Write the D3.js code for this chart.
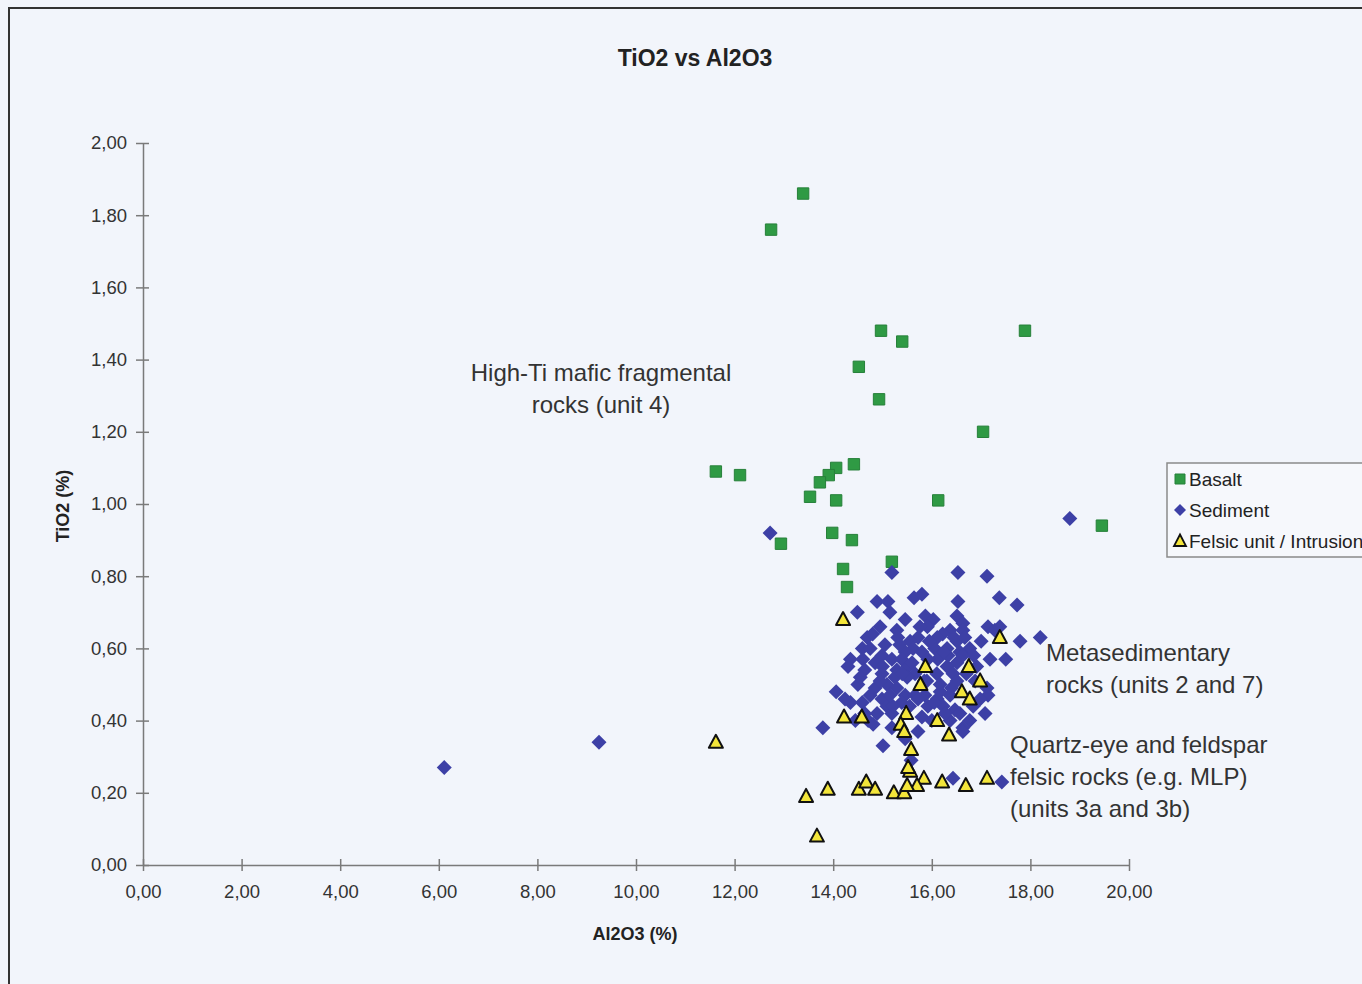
<!DOCTYPE html>
<html>
<head>
<meta charset="utf-8">
<script src="https://cdn.jsdelivr.net/npm/d3@7"></script>
<style>
  html, body { margin: 0; padding: 0; background: #f2f5fb; }
  svg { display: block; }
</style>
</head>
<body>
<svg id="chart" width="1362" height="984"></svg>
<script>
// Al2O3 (x) and TiO2 (y) in wt %, one array pair per rock group
const basaltAl = [13.39, 12.74, 14.97, 17.89, 15.40, 14.52, 14.93, 17.04, 11.62, 12.11, 14.42, 14.06,
  13.91, 13.73, 13.53, 14.06, 16.13, 19.45, 12.94, 13.98, 14.38, 15.19, 14.20, 14.28];
const basaltTi = [1.86, 1.76, 1.48, 1.48, 1.45, 1.38, 1.29, 1.20, 1.09, 1.08, 1.11, 1.10,
  1.08, 1.06, 1.02, 1.01, 1.01, 0.94, 0.89, 0.92, 0.90, 0.84, 0.82, 0.77];

const sedimentAl = [6.11, 9.25, 12.72, 18.80, 15.19, 16.53, 17.12, 15.64, 15.80, 17.37, 17.73, 14.89,
  15.11, 16.53, 14.49, 15.15, 16.51, 15.87, 16.03, 16.63, 15.91, 17.14, 17.28, 16.37,
  16.63, 16.22, 15.29, 14.69, 15.31, 15.72, 15.56, 16.11, 16.51, 16.67, 17.79, 18.20,
  14.59, 15.62, 16.77, 16.57, 16.31, 16.06, 15.46, 15.80, 14.99, 16.63, 16.33, 17.50,
  15.19, 15.39, 14.60, 16.12, 14.85, 16.51, 15.52, 16.91, 14.64, 15.29, 16.31, 15.66,
  14.99, 16.10, 16.43, 15.25, 15.50, 15.90, 16.51, 16.17, 14.50, 15.09, 17.12, 14.85,
  15.29, 14.06, 17.14, 15.66, 15.46, 15.86, 16.37, 14.99, 16.11, 16.98, 14.59, 14.35,
  15.39, 15.09, 15.92, 16.84, 16.23, 16.47, 14.89, 15.19, 14.64, 15.80, 14.71, 16.00,
  16.77, 16.37, 14.81, 16.63, 13.79, 15.19, 15.72, 16.63, 15.01, 15.58, 16.43, 17.42,
  14.75, 15.05, 15.92, 16.17, 15.72, 15.21, 16.57, 14.95, 14.75, 16.27, 15.46, 17.08,
  16.88, 17.18, 14.45, 14.24, 15.76, 15.46, 14.95, 14.35, 17.38,
  14.80, 15.00, 15.35, 15.60, 15.95, 16.25, 16.45, 16.70, 16.85, 15.15, 15.55, 16.05,
  14.55, 14.30, 15.85, 16.40, 17.00, 15.40];
const sedimentTi = [0.27, 0.34, 0.92, 0.96, 0.81, 0.81, 0.80, 0.74, 0.75, 0.74, 0.72, 0.73,
  0.73, 0.73, 0.70, 0.70, 0.69, 0.69, 0.68, 0.67, 0.66, 0.66, 0.65, 0.65,
  0.65, 0.64, 0.65, 0.63, 0.63, 0.63, 0.62, 0.63, 0.62, 0.63, 0.62, 0.63,
  0.60, 0.60, 0.60, 0.59, 0.60, 0.60, 0.59, 0.59, 0.58, 0.58, 0.58, 0.57,
  0.57, 0.57, 0.57, 0.57, 0.56, 0.56, 0.55, 0.55, 0.54, 0.54, 0.55, 0.53,
  0.53, 0.53, 0.53, 0.52, 0.52, 0.51, 0.51, 0.50, 0.50, 0.50, 0.49, 0.49,
  0.49, 0.48, 0.47, 0.47, 0.47, 0.47, 0.47, 0.46, 0.46, 0.46, 0.45, 0.45,
  0.45, 0.44, 0.44, 0.44, 0.44, 0.43, 0.42, 0.42, 0.42, 0.41, 0.40, 0.40,
  0.40, 0.40, 0.39, 0.38, 0.38, 0.38, 0.37, 0.37, 0.33, 0.29, 0.24, 0.23,
  0.60, 0.61, 0.57, 0.48, 0.46, 0.44, 0.42, 0.51, 0.47, 0.42, 0.35, 0.42,
  0.51, 0.57, 0.40, 0.46, 0.66, 0.68, 0.66, 0.57, 0.66,
  0.64, 0.55, 0.61, 0.56, 0.62, 0.59, 0.63, 0.53, 0.58, 0.47, 0.44, 0.45,
  0.52, 0.55, 0.51, 0.49, 0.62, 0.53];

const felsicAl = [14.20, 17.38, 11.62, 15.87, 16.75, 16.98, 15.77, 16.61, 16.77, 14.22, 14.58, 15.48,
  15.37, 15.44, 16.11, 16.35, 15.58, 15.56, 15.84, 15.70, 13.45, 13.89, 14.52, 14.67,
  14.85, 15.23, 15.44, 15.50, 15.52, 16.21, 16.69, 17.12, 13.67];
const felsicTi = [0.68, 0.63, 0.34, 0.55, 0.55, 0.51, 0.50, 0.48, 0.46, 0.41, 0.41, 0.42,
  0.39, 0.37, 0.40, 0.36, 0.32, 0.26, 0.24, 0.22, 0.19, 0.21, 0.21, 0.23,
  0.21, 0.20, 0.20, 0.22, 0.27, 0.23, 0.22, 0.24, 0.08];

const xTicks = [0, 2, 4, 6, 8, 10, 12, 14, 16, 18, 20];
const yTicks = [0, 0.2, 0.4, 0.6, 0.8, 1.0, 1.2, 1.4, 1.6, 1.8, 2.0];

const legendLabels = ["Basalt", "Sediment", "Felsic unit / Intrusion"];

const annotations = [
  { lines: ["High-Ti mafic fragmental", "rocks (unit 4)"], x: 601, y: 381, anchor: "middle" },
  { lines: ["Metasedimentary", "rocks (units 2 and 7)"], x: 1046, y: 661, anchor: "start" },
  { lines: ["Quartz-eye and feldspar", "felsic rocks (e.g. MLP)", "(units 3a and 3b)"], x: 1010, y: 753, anchor: "start" }
];

const BG = "#f2f5fb";
const svg = d3.select("#chart");
const font = "'Liberation Sans', Arial, sans-serif";
const comma = d => d3.format(".2f")(d).replace(".", ",");

// chart frame
svg.append("rect").attr("x", 0).attr("y", 0).attr("width", 1362).attr("height", 984).attr("fill", BG);
svg.append("path").attr("d", "M9,984 L9,8 L1362,8").attr("fill", "none")
  .attr("stroke", "#333").attr("stroke-width", 2);

const x = d3.scaleLinear().domain([0, 20]).range([143, 1129]);
const y = d3.scaleLinear().domain([0, 2]).range([865, 143]);

// title
svg.append("text").attr("x", 695).attr("y", 66).attr("text-anchor", "middle")
  .attr("font-family", font).attr("font-weight", "bold").attr("font-size", 23)
  .attr("fill", "#222").text("TiO2 vs Al2O3");

// axes
const axisColor = "#7a7a7a";
const gx = svg.append("g").attr("transform", `translate(0,${y(0)})`)
  .call(d3.axisBottom(x).tickValues(xTicks).tickFormat(comma).tickSizeInner(6).tickSizeOuter(0).tickPadding(14));
const gy = svg.append("g").attr("transform", `translate(${x(0)},0)`)
  .call(d3.axisLeft(y).tickValues(yTicks).tickFormat(comma).tickSizeInner(7).tickSizeOuter(0).tickPadding(9));
[gx, gy].forEach(g => {
  g.select(".domain").attr("stroke", axisColor).attr("stroke-width", 1.5);
  g.selectAll(".tick line").attr("stroke", axisColor).attr("stroke-width", 1.5);
  g.selectAll(".tick text").attr("font-family", font).attr("font-size", 18.5).attr("fill", "#333");
});
gx.selectAll(".tick line").attr("y1", -6).attr("y2", 6);
gy.selectAll(".tick line").attr("x1", 6).attr("x2", -7);

svg.append("text").attr("x", 635).attr("y", 940).attr("text-anchor", "middle")
  .attr("font-family", font).attr("font-weight", "bold").attr("font-size", 18)
  .attr("fill", "#222").text("Al2O3 (%)");
svg.append("text").attr("transform", "translate(69,506) rotate(-90)").attr("text-anchor", "middle")
  .attr("font-family", font).attr("font-weight", "bold").attr("font-size", 18)
  .attr("fill", "#222").text("TiO2 (%)");

// marker shapes
const squarePath = d3.symbol().type(d3.symbolSquare).size(130)();
const diamondPath = "M0,-7.5L7.5,0L0,7.5L-7.5,0Z";
const trianglePath = "M0,-7.5L7,5.5L-7,5.5Z";

const sediment = sedimentAl.map((v, i) => ({ x: v, y: sedimentTi[i] }));
const basalt = basaltAl.map((v, i) => ({ x: v, y: basaltTi[i] }));
const felsic = felsicAl.map((v, i) => ({ x: v, y: felsicTi[i] }));

const plot = svg.append("g");
plot.selectAll(".b").data(basalt).join("path").attr("class", "b")
  .attr("d", squarePath).attr("transform", d => `translate(${x(d.x)},${y(d.y)})`)
  .attr("fill", "#2f9a44").attr("stroke", "#27803a").attr("stroke-width", 1);
plot.selectAll(".s").data(sediment).join("path").attr("class", "s")
  .attr("d", diamondPath).attr("transform", d => `translate(${x(d.x)},${y(d.y)})`)
  .attr("fill", "#3d40a6");
plot.selectAll(".f").data(felsic).join("path").attr("class", "f")
  .attr("d", trianglePath).attr("transform", d => `translate(${x(d.x)},${y(d.y)})`)
  .attr("fill", "#f3e53a").attr("stroke", "#111").attr("stroke-width", 2).attr("stroke-linejoin", "round");

// text annotations
annotations.forEach(a => {
  const t = svg.append("text").attr("font-family", font).attr("font-size", 24)
    .attr("fill", "#333").attr("text-anchor", a.anchor);
  a.lines.forEach((ln, i) => t.append("tspan").attr("x", a.x).attr("y", a.y + i * 32).text(ln));
});

// legend
const lg = svg.append("g").attr("transform", "translate(1167,463)");
lg.append("rect").attr("width", 220).attr("height", 94).attr("fill", "#f6f8fc")
  .attr("stroke", "#8a8a8a").attr("stroke-width", 1.5);
const legendShapes = [
  { d: d3.symbol().type(d3.symbolSquare).size(100)(), fill: "#2f9a44", stroke: "#27803a", sw: 1 },
  { d: "M0,-6L6,0L0,6L-6,0Z", fill: "#3d40a6", stroke: "none", sw: 0 },
  { d: "M0,-6.5L6,5L-6,5Z", fill: "#f3e53a", stroke: "#111", sw: 1.8 }
];
legendLabels.forEach((lab, i) => {
  const cy = 16 + i * 31;
  lg.append("path").attr("d", legendShapes[i].d).attr("transform", `translate(13,${cy})`)
    .attr("fill", legendShapes[i].fill).attr("stroke", legendShapes[i].stroke)
    .attr("stroke-width", legendShapes[i].sw);
  lg.append("text").attr("x", 22).attr("y", cy + 6.5).attr("font-family", font)
    .attr("font-size", 19).attr("fill", "#222").text(lab);
});
</script>
</body>
</html>
